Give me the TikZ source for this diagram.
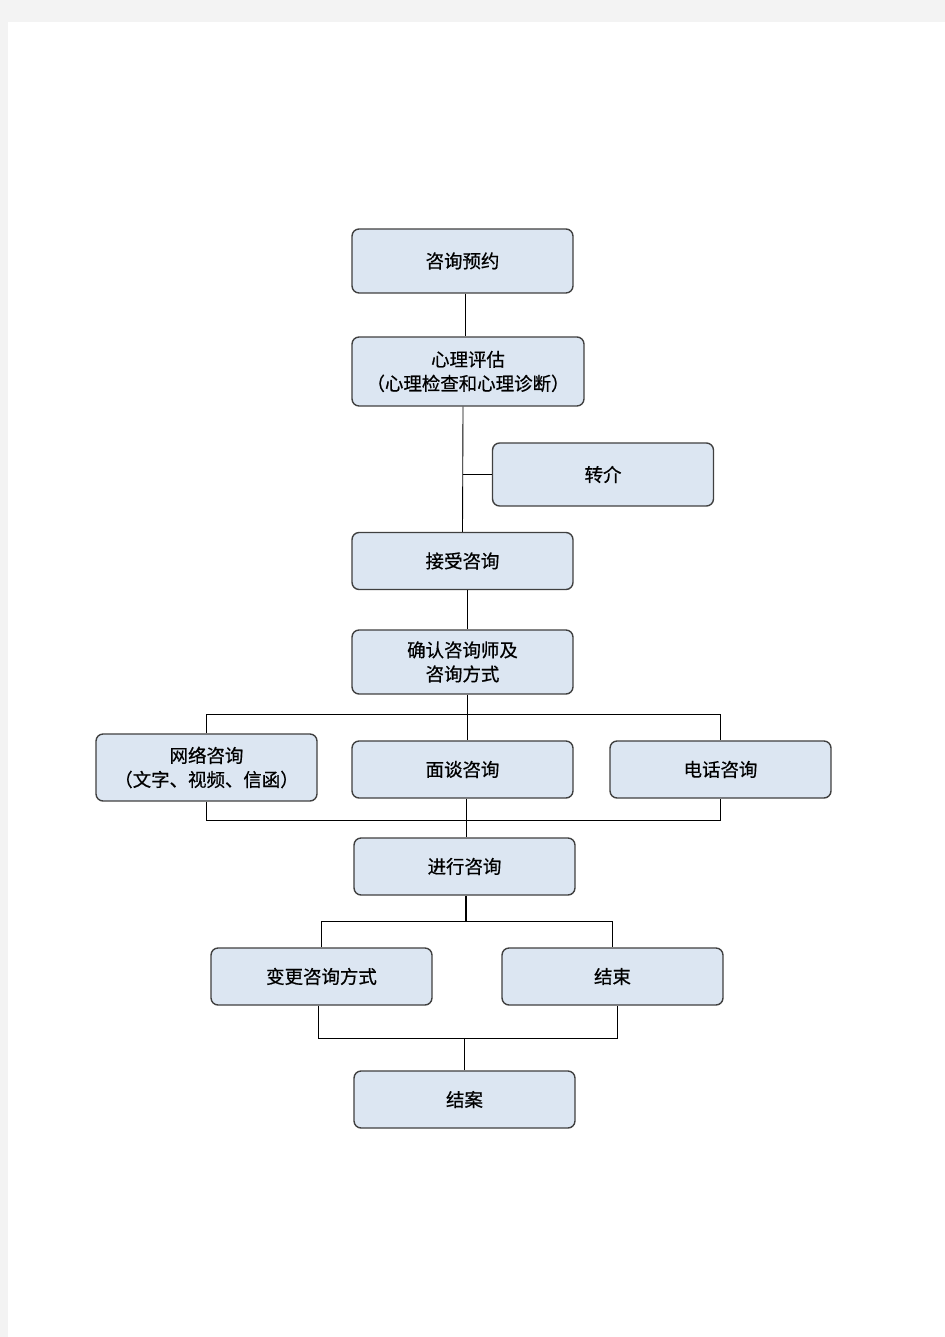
\documentclass[tikz,border=0pt]{standalone}
\usepackage{fontspec}
\newfontfamily\cjk[FakeBold=0.6]{Noto Sans CJK SC}
\definecolor{boxfill}{HTML}{DCE6F2}
\definecolor{boxline}{HTML}{404040}
\definecolor{pagegray}{HTML}{F3F3F3}
\tikzset{box/.style={draw=boxline,fill=boxfill,rounded corners=4pt,line width=0.8pt,
  align=center,inner sep=0pt,font=\cjk\fontsize{10.5}{13.7}\selectfont,
  minimum width=4.42cm,minimum height=1.14cm}}
\tikzset{link/.style={draw=black,line width=0.5pt}}
\begin{document}
\begin{tikzpicture}[x=0.02cm,y=-0.02cm]
\useasboundingbox (0,0) rectangle (945,1337);
\fill[pagegray] (0,0) rectangle (945,1337);
\fill[white] (8,22) rectangle (945,1337);
% boxes
\node[box,minimum height=1.28cm] (yuyue) at (462.5,261) {咨询预约};
\node[box,minimum width=4.64cm,minimum height=1.38cm] (pinggu) at (468,371.5) {心理评估\\（心理检查和心理诊断）};
\node[box,minimum height=1.26cm] (zhuanjie) at (603,474.5) {转介};
\node[box] (jieshou) at (462.5,561) {接受咨询};
\node[box,minimum height=1.28cm] (queren) at (462.5,662) {确认咨询师及\\咨询方式};
\node[box,minimum height=1.34cm] (wangluo) at (206.5,767.5) {网络咨询\\（文字、视频、信函）};
\node[box] (mianta) at (462.5,769.5) {面谈咨询};
\node[box] (dianhua) at (720.5,769.5) {电话咨询};
\node[box] (jinxing) at (464.5,866.5) {进行咨询};
\node[box] (biangeng) at (321.5,976.5) {变更咨询方式};
\node[box] (jieshu) at (612.5,976.5) {结束};
\node[box] (jiean) at (464.5,1099.5) {结案};
% bars
\coordinate (topbar) at (0,714);
\coordinate (botbar) at (0,820);
\coordinate (fork) at (0,921);
\coordinate (join) at (0,1038);
% connectors
\draw[link] (yuyue.south -| 465,0) -- (pinggu.north -| 465,0);
\draw[link] (pinggu.south -| 463,0) -- (jieshou.north);
\draw[link] (zhuanjie.west) -- (zhuanjie.west -| 463,0);
\draw[link] (jieshou.south -| 467,0) -- (queren.north -| 467,0);
\draw[link] (queren.south -| 467,0) -- (mianta.north -| 467,0);
\draw[link] (wangluo.north) -- (wangluo.north |- topbar) -- (dianhua.north |- topbar) -- (dianhua.north);
\draw[link] (wangluo.south) -- (wangluo.south |- botbar) -- (dianhua.south |- botbar) -- (dianhua.south);
\draw[link] (mianta.south -| 466,0) -- (jinxing.north -| 466,0);
\draw[link,line width=1pt] (jinxing.south -| 466,0) -- (fork -| 466,0);
\draw[link] (biangeng.north) -- (biangeng.north |- fork) -- (jieshu.north |- fork) -- (jieshu.north);
\draw[link] (biangeng.south -| 318,0) -- (join -| 318,0) -- (join -| 617,0) -- (jieshu.south -| 617,0);
\draw[link] (jiean.north) -- (jiean.north |- join);
\end{tikzpicture}
\end{document}
